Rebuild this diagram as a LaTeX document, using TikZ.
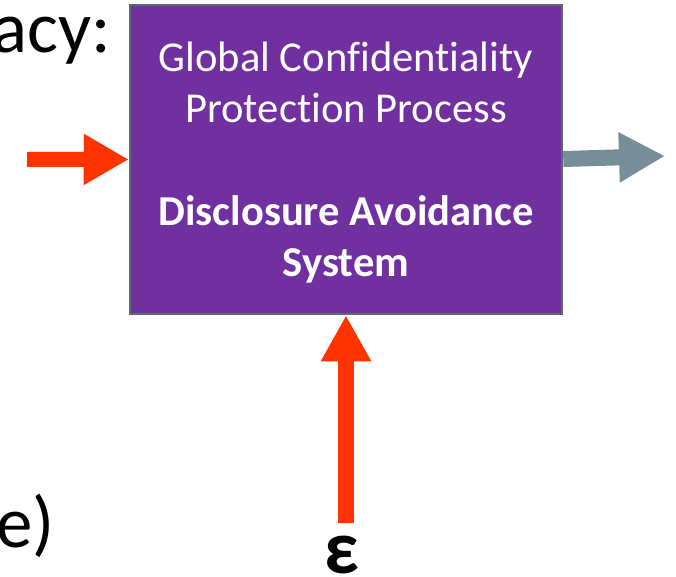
\documentclass[tikz,border=0pt]{standalone}
\usepackage{fontspec}
\setmainfont{Carlito}[Ligatures=NoCommon]
\usetikzlibrary{arrows.meta}
\definecolor{boxpurple}{HTML}{7030A0}
\definecolor{boxborder}{HTML}{5E6A72}
\definecolor{redarrow}{HTML}{FF3300}
\definecolor{grayarrow}{HTML}{778E99}
\tikzset{
  bigtext/.style={font=\fontsize{73}{80}\selectfont, inner sep=0pt, text=black},
  boxtext/.style={font=\fontsize{42.6}{50}\selectfont, inner sep=0pt, text=white, anchor=base},
  boxbold/.style={boxtext, font=\fontsize{42.6}{50}\selectfont\bfseries},
  fatarrow/.style={line width=16pt, -{Triangle[length=46pt,width=47pt]}},
}
\begin{document}
\begin{tikzpicture}[x=1pt,y=-1pt]
\useasboundingbox (0,0) rectangle (676,576);
% main box
\node[draw=boxborder, line width=2.5pt, fill=boxpurple, minimum width=432pt, minimum height=309pt, inner sep=0pt] (box) at (346,159.5) {};
\node[boxtext] (t1) at (346,71) {Global Confidentiality};
\node[boxtext] (t2) at (346,122.7) {Protection Process};
\node[boxbold] (t3) at (346,225) {Disclosure Avoidance};
\node[boxbold] (t4) at (346,276) {System};
% side texts
\node[bigtext, anchor=base east] (acy) at (111,52) {acy:};
\node[bigtext, anchor=base west] (eparen) at (-4,547) {e)};
\node[font=\fontsize{76}{80}\selectfont\bfseries, inner sep=0pt, anchor=base] (eps) at (342,573) {ε};
% connectors
\coordinate (rin) at (27,159.3);
\coordinate (gout) at (665,156);
\coordinate (epsin) at (346,523);
\draw[fatarrow, redarrow, line width=15pt, -{Triangle[length=45pt,width=48pt]}] (rin) -- (box.west);
\draw[fatarrow, grayarrow] ([yshift=0.5pt]box.east) -- (gout);
\draw[fatarrow, redarrow] (epsin) -- (box.south);
\end{tikzpicture}
\end{document}
